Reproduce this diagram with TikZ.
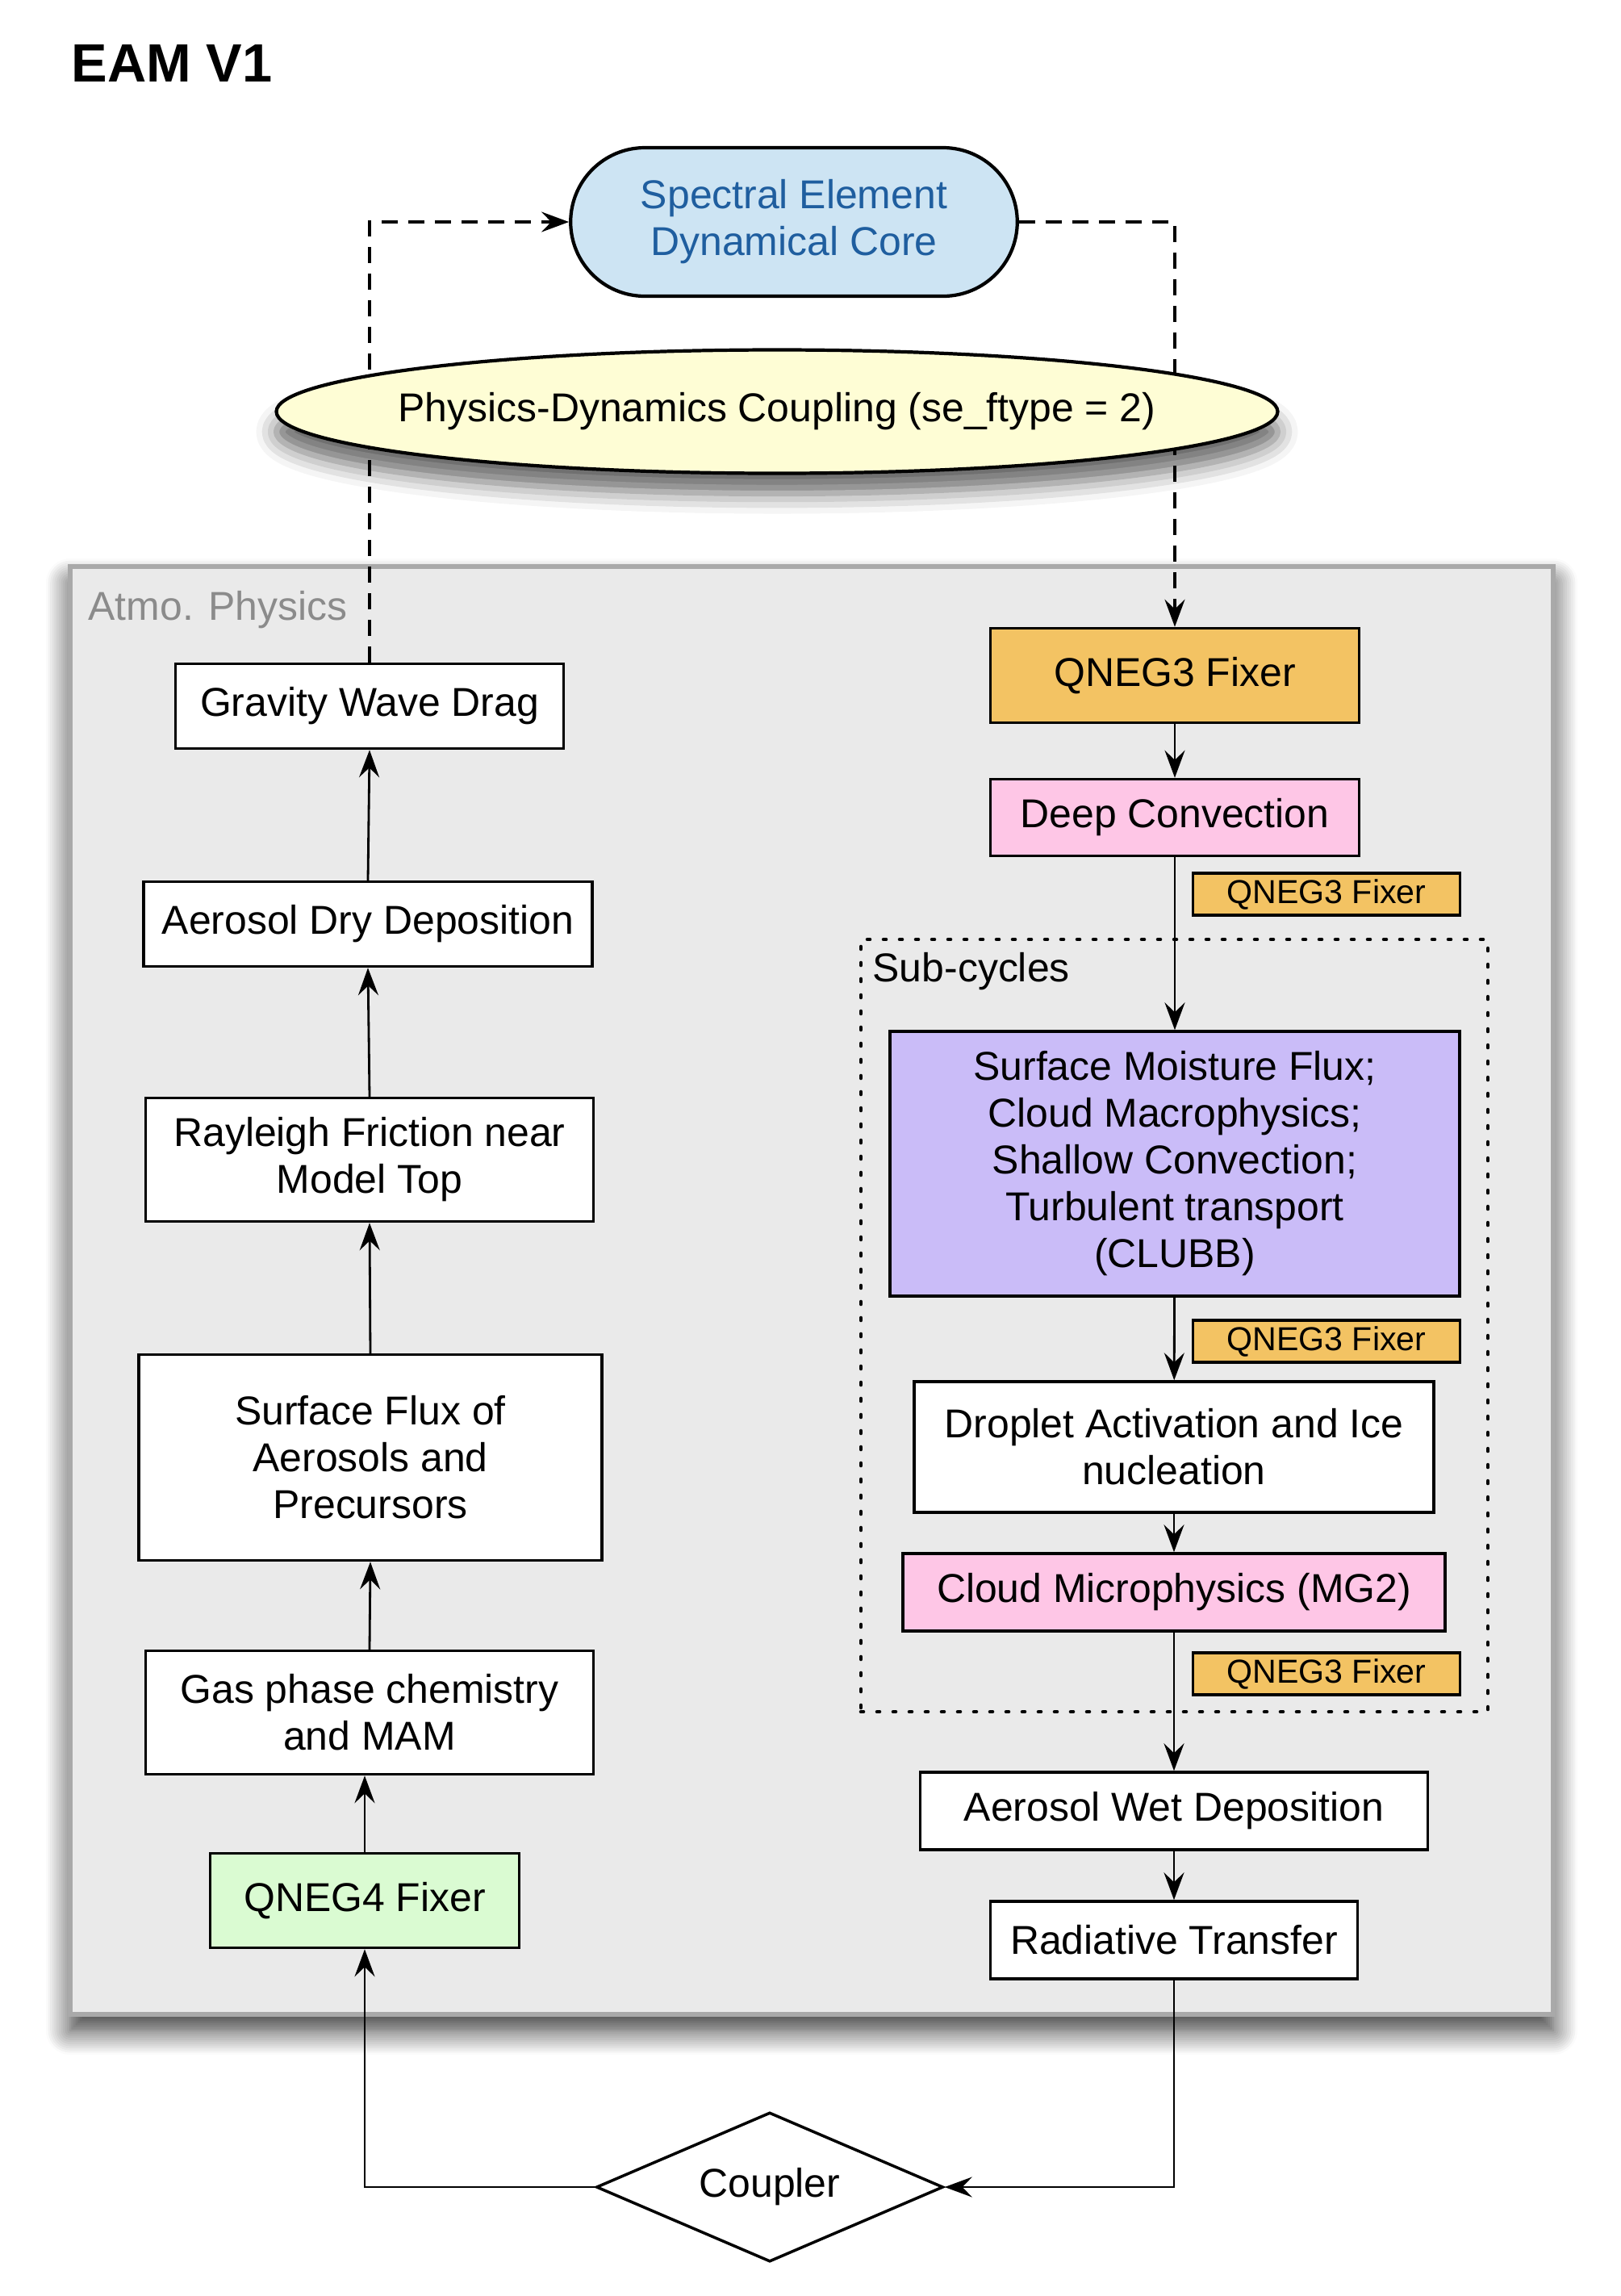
\documentclass[tikz,border=0pt]{standalone}
\usepackage{fontspec}
\setmainfont{Liberation Sans}
\usetikzlibrary{positioning, arrows.meta, shapes.geometric, shapes.misc, shadows.blur}

\definecolor{coreblue}{HTML}{CDE4F3}
\definecolor{coretext}{HTML}{1F5E9F}
\definecolor{pdcyellow}{HTML}{FEFDD5}
\definecolor{panelgray}{HTML}{EAEAEA}
\definecolor{panelline}{HTML}{A9A9A9}
\definecolor{labelgray}{HTML}{8B8B8B}
\definecolor{fixorange}{HTML}{F3C363}
\definecolor{procpink}{HTML}{FEC6E6}
\definecolor{clubbpurple}{HTML}{CABCF8}
\definecolor{fixgreen}{HTML}{DAFBD2}

\tikzset{
    proc/.style={draw, line width=1pt, fill=white, inner sep=0pt, align=center,
        font=\fontsize{14.2}{16.5}\selectfont},
    tag/.style={draw, line width=1pt, fill=fixorange, inner sep=0pt,
        minimum width=3.31cm, minimum height=0.52cm, font=\fontsize{11.7}{13}\selectfont},
    flow/.style={-{Stealth[length=3.4mm, width=2.5mm, inset=1.2mm]}, line width=0.8pt},
    link/.style={flow, line width=1pt, dash pattern=on 2mm off 1.3mm},
}

\begin{document}
\begin{tikzpicture}[font=\fontsize{14.2}{16.5}\selectfont]
    \useasboundingbox (0, 0) rectangle (20.08, -28.45);

    %% Title
    \node[anchor=base west, inner sep=0pt, font=\bfseries\fontsize{19}{22}\selectfont] (title) at (0.88, -1.01) {EAM V1};

    %% Atmo. Physics
    \node[draw=panelline, line width=1.5pt, fill=panelgray, minimum width=18.38cm, minimum height=17.94cm,
        blur shadow={shadow xshift=0pt, shadow yshift=-2mm, shadow blur radius=3mm,
        shadow blur steps=12, shadow opacity=80}] (physics) at (10.06, -15.99) {};
    \node[anchor=base west, inner sep=0pt, text=labelgray] (atmo) at (1.09, -7.68) {Atmo. Physics};

    % Sub-cycles
    \node[draw, line width=1.3pt, dash pattern=on 0.3mm off 1.7mm, line cap=round, minimum width=7.77cm, minimum height=9.57cm] (subcycles) at (14.555, -16.425) {};
    \node[anchor=base west, inner sep=0pt] (sublabel) at (10.81, -12.16) {Sub-cycles};

    %% Dynamics
    \node[rounded rectangle, draw, line width=1.2pt, fill=coreblue, text=coretext, align=center,
        minimum width=5.77cm, minimum height=1.84cm] (core) at (9.84, -2.75) {Spectral Element\\Dynamical Core};

    %% Physics, upward column
    \node[proc, minimum width=4.81cm, minimum height=1.05cm] (gwd) at (4.58, -8.75) {Gravity Wave Drag};
    \node[proc, minimum width=5.56cm, minimum height=1.05cm] (dry) at (4.56, -11.45) {Aerosol Dry Deposition};
    \node[proc, minimum width=5.55cm, minimum height=1.53cm] (rf) at (4.58, -14.37) {Rayleigh Friction near\\Model Top};
    \node[proc, minimum width=5.74cm, minimum height=2.55cm] (sflux) at (4.59, -18.06) {Surface Flux of\\Aerosols and\\Precursors};
    \node[proc, minimum width=5.55cm, minimum height=1.53cm] (gas) at (4.58, -21.22) {Gas phase chemistry\\and MAM};
    \node[proc, fill=fixgreen, minimum width=3.83cm, minimum height=1.17cm] (qneg4) at (4.52, -23.55) {QNEG4 Fixer};

    %% Physics, downward column
    \node[proc, fill=fixorange, minimum width=4.57cm, minimum height=1.17cm] (qneg3) at (14.56, -8.37) {QNEG3 Fixer};
    \node[proc, fill=procpink, minimum width=4.57cm, minimum height=0.95cm] (deep) at (14.56, -10.13) {Deep Convection};
    \node[proc, fill=clubbpurple, minimum width=7.06cm, minimum height=3.28cm] (clubb) at (14.56, -14.42) {Surface Moisture Flux;\\Cloud Macrophysics;\\Shallow Convection;\\Turbulent transport\\(CLUBB)};
    \node[proc, minimum width=6.44cm, minimum height=1.62cm] (drop) at (14.55, -17.93) {Droplet Activation and Ice\\nucleation};
    \node[proc, fill=procpink, minimum width=6.72cm, minimum height=0.96cm] (mg2) at (14.55, -19.73) {Cloud Microphysics (MG2)};
    \node[proc, minimum width=6.29cm, minimum height=0.96cm] (wet) at (14.55, -22.44) {Aerosol Wet Deposition};
    \node[proc, minimum width=4.55cm, minimum height=0.96cm] (rad) at (14.55, -24.04) {Radiative Transfer};

    % Fixer tags
    \node[tag] (tagdeep) at (16.44, -11.08) {QNEG3 Fixer};
    \node[tag] (tagclubb) at (16.44, -16.62) {QNEG3 Fixer};
    \node[tag] (tagmg) at (16.44, -20.74) {QNEG3 Fixer};

    %% Coupler
    \node[diamond, draw, line width=1pt, fill=white, inner sep=0pt, aspect=2.3,
        minimum width=4.30cm, minimum height=1.85cm] (coupler) at (9.54, -27.10) {Coupler};

    %% Transitions
    \draw[link] (gwd.north) |- (core.west);
    \draw[link] (core.east) -| (qneg3.north);

    \draw[flow] (dry.north) -- (gwd.south);
    \draw[flow] (rf.north) -- (dry.south);
    \draw[flow] (sflux.north) -- (rf.south);
    \draw[flow] (gas.north) -- (sflux.south);
    \draw[flow] (qneg4.north) -- (qneg4.north |- gas.south);

    \draw[flow] (qneg3) -- (deep);
    \draw[flow] (deep) -- (clubb);
    \draw[flow] (clubb) -- (drop);
    \draw[flow] (drop) -- (mg2);
    \draw[flow] (mg2) -- (wet);
    \draw[flow] (wet) -- (rad);

    \draw[flow] (rad.south) |- (coupler.east);
    \draw[flow] (coupler.west) -| (qneg4.south);

    %% Coupling (drawn over the links)
    \node[ellipse, draw, line width=1.2pt, fill=pdcyellow, inner sep=0pt, minimum width=12.41cm, minimum height=1.53cm,
        blur shadow={shadow xshift=0pt, shadow yshift=-2.5mm, shadow blur radius=2.5mm, shadow opacity=60}] (pdc) at (9.63, -5.10) {\makebox[8.7cm]{Physics-Dynamics Coupling (se\_ftype = 2)}};
\end{tikzpicture}
\end{document}
